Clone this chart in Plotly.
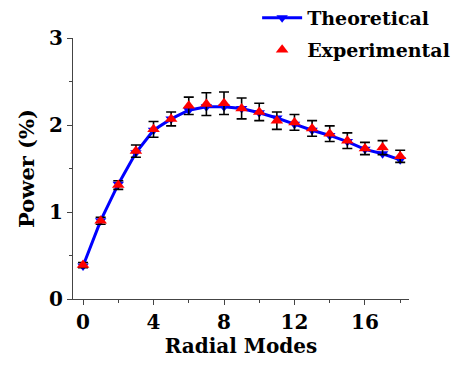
import plotly.graph_objects as go

modes = list(range(19))
theoretical = [0.38, 0.90, 1.32, 1.68, 1.94, 2.07, 2.17, 2.21, 2.21, 2.19, 2.14, 2.08, 2.01, 1.94, 1.88, 1.81, 1.72, 1.67, 1.60]
experimental = [0.39, 0.90, 1.31, 1.70, 1.95, 2.07, 2.22, 2.24, 2.25, 2.19, 2.15, 2.05, 2.03, 1.96, 1.90, 1.82, 1.73, 1.74, 1.64]
exp_error = [0.03, 0.04, 0.05, 0.07, 0.09, 0.08, 0.10, 0.13, 0.13, 0.12, 0.10, 0.10, 0.09, 0.09, 0.09, 0.09, 0.07, 0.08, 0.07]

FONT = "DejaVu Serif"

fig = go.Figure()
fig.add_trace(go.Scatter(
    x=modes, y=theoretical, name="Theoretical", mode="lines+markers",
    line=dict(color="#0000ff", width=3),
    marker=dict(symbol="triangle-down", size=10, color="#0000ff"),
    legend="legend",
))
fig.add_trace(go.Scatter(
    x=modes, y=experimental, name="Experimental", mode="markers",
    marker=dict(symbol="triangle-up", size=11, color="#ff0000"),
    error_y=dict(type="data", array=exp_error, visible=True, color="black", thickness=1.6, width=5),
    legend="legend2",
))

leg_font = dict(family=FONT, size=19, weight="bold")
fig.update_layout(
    width=468, height=367,
    margin=dict(l=73, r=59, t=38, b=68, autoexpand=False),
    paper_bgcolor="white", plot_bgcolor="white",
    font=dict(family=FONT, color="black", size=20),
    legend=dict(x=0.548, y=1.15, xanchor="left", yanchor="top", font=leg_font,
                bgcolor="rgba(0,0,0,0)", itemwidth=40),
    legend2=dict(x=0.548, y=1.027, xanchor="left", yanchor="top", font=leg_font,
                 bgcolor="rgba(0,0,0,0)", itemwidth=40),
    showlegend=True,
)
fig.update_xaxes(
    range=[-0.57, 18.5], tickvals=[0, 4, 8, 12, 16],
    ticks="outside", ticklen=5, tickcolor="#444", showline=True, linecolor="#444", linewidth=1.2,
    showgrid=False, zeroline=False,
    minor=dict(tickvals=[2, 6, 10, 14, 18], ticks="outside", ticklen=3, tickcolor="#444"),
    tickfont=dict(family=FONT, size=20, weight="bold"),
    title=dict(text="Radial Modes", font=dict(family=FONT, size=20, weight="bold"), standoff=2),
)
fig.update_yaxes(
    range=[0, 3], tickvals=[0, 1, 2, 3],
    ticks="outside", ticklen=5, tickcolor="#444", showline=True, linecolor="#444", linewidth=1.2,
    showgrid=False, zeroline=False,
    minor=dict(tickvals=[0.5, 1.5, 2.5], ticks="outside", ticklen=3, tickcolor="#444"),
    tickfont=dict(family=FONT, size=20, weight="bold"),
    title=dict(text="Power (%)", font=dict(family=FONT, size=21, weight="bold"), standoff=8),
)

fig.write_html("out.html")
